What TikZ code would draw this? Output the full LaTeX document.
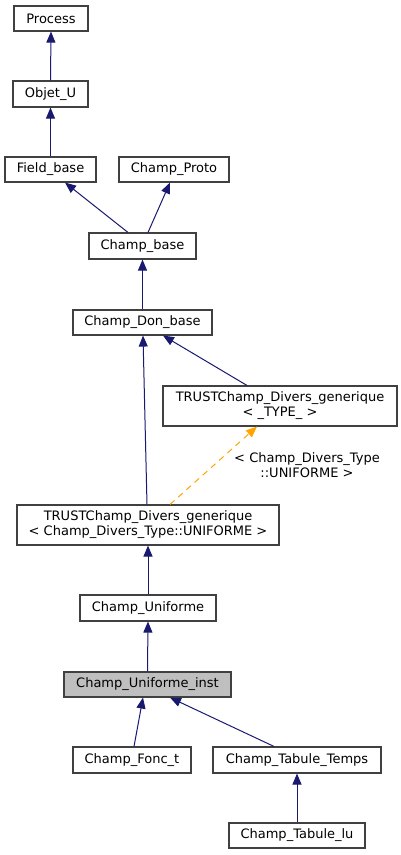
\documentclass[tikz,border=0pt]{standalone}
\usepackage{fontspec}
\setmainfont{DejaVu Sans}
\usetikzlibrary{arrows.meta}
\definecolor{edgeblue}{HTML}{191970}
\definecolor{edgeorange}{HTML}{FFA500}
\definecolor{boxborder}{HTML}{404040}
\definecolor{hlfill}{HTML}{BFBFBF}
\begin{document}
\begin{tikzpicture}[x=1pt,y=-1pt,
  cls/.style={draw=boxborder,line width=1.1pt,fill=white,inner sep=0pt,align=center,
    font=\fontsize{13}{15}\selectfont},
  hl/.style={cls,fill=hlfill},
  inh/.style={edgeblue,line width=1pt,-{Triangle[length=11pt,width=9pt]}},
  tpl/.style={edgeorange,line width=1pt,dash pattern=on 6pt off 5pt,-{Triangle[length=11pt,width=9pt]}},
  lbl/.style={align=center,inner sep=0pt,font=\fontsize{13}{15}\selectfont}]
\useasboundingbox (0,0) rectangle (401,855);
\node[cls,minimum width=74pt,minimum height=25pt] (pr) at (51,18.5) {Process};
\node[cls,minimum width=75pt,minimum height=26pt] (ou) at (50.5,94) {Objet\_U};
\node[cls,minimum width=91pt,minimum height=25pt] (fb) at (50.5,169.5) {Field\_base};
\node[cls,minimum width=110pt,minimum height=25pt] (cp) at (174,169.5) {Champ\_Proto};
\node[cls,minimum width=107pt,minimum height=26pt] (cb) at (142.5,246) {Champ\_base};
\node[cls,minimum width=139pt,minimum height=25pt] (cdb) at (142.5,322.5) {Champ\_Don\_base};
\node[cls,minimum width=234pt,minimum height=40pt] (tt) at (280,406) {TRUSTChamp\_Divers\_generique\\{<} \_TYPE\_ {>}};
\node[cls,minimum width=262pt,minimum height=40pt] (tu) at (148,525) {TRUSTChamp\_Divers\_generique\\{<} Champ\_Divers\_Type::UNIFORME {>}};
\node[cls,minimum width=136pt,minimum height=26pt] (cu) at (148,608) {Champ\_Uniforme};
\node[hl,minimum width=167pt,minimum height=25pt] (ci) at (147.5,684.5) {Champ\_Uniforme\_inst};
\node[cls,minimum width=118pt,minimum height=26pt] (cf) at (132,760) {Champ\_Fonc\_t};
\node[cls,minimum width=168pt,minimum height=26pt] (ct) at (297,760) {Champ\_Tabule\_Temps};
\node[cls,minimum width=136pt,minimum height=25pt] (cl) at (297,835.5) {Champ\_Tabule\_lu};
\node[lbl] (lab) at (307,465) {{<} Champ\_Divers\_Type\\::UNIFORME {>}};
\draw[inh] (ou.north) -- (pr.south);
\draw[inh] (fb.north) -- (ou.south);
\draw[inh] ([xshift=-14.5pt]cb.north) -- ([xshift=14.5pt]fb.south);
\draw[inh] ([xshift=5.5pt]cb.north) -- ([xshift=-4pt]cp.south);
\draw[inh] (cdb.north) -- (cb.south);
\draw[inh] ([xshift=-1pt]tu.north) -- ([xshift=0.5pt]cdb.south);
\draw[inh] ([xshift=-33pt]tt.north) -- ([xshift=20.5pt]cdb.south);
\draw[tpl] ([xshift=22pt]tu.north) -- ([xshift=-23pt]tt.south);
\draw[inh] (cu.north) -- (tu.south);
\draw[inh] (ci.north) -- (cu.south);
\draw[inh] ([xshift=2pt]cf.north) -- ([xshift=-4.5pt]ci.south);
\draw[inh] ([xshift=-23pt]ct.north) -- ([xshift=22.5pt]ci.south);
\draw[inh] (cl.north) -- (ct.south);
\end{tikzpicture}
\end{document}
